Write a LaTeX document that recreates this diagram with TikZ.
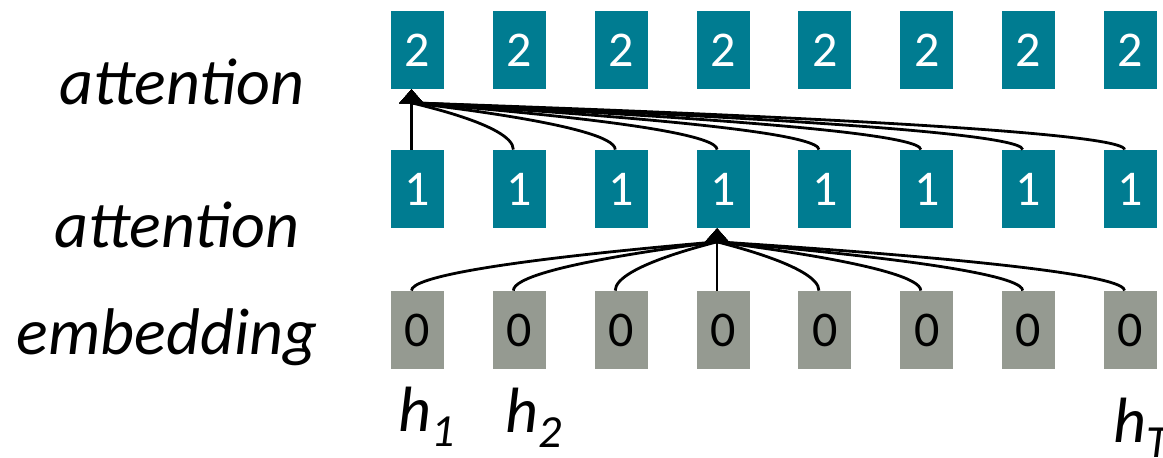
\documentclass[tikz,border=0pt]{standalone}
\usepackage{fontspec}
\setmainfont{Carlito}
\usetikzlibrary{arrows.meta}
\definecolor{layerteal}{HTML}{007C91}
\definecolor{embgray}{HTML}{959A91}
\newcommand{\hsub}[1]{h\raisebox{-7.5pt}{\fontsize{23}{23}\selectfont #1}}

\begin{document}
\begin{tikzpicture}[
		x={(0.5pt,0pt)},
		y={(0pt,-0.5pt)},
		cell/.style={minimum width=26.5pt,minimum height=39pt,inner sep=0pt,font=\fontsize{25}{25}\selectfont},
		att/.style={cell,fill=layerteal,text=white},
		emb/.style={cell,fill=embgray,text=black},
		lab/.style={anchor=base,inner sep=0pt,font=\fontsize{33}{33}\selectfont\itshape},
		hlab/.style={anchor=base west,inner sep=0pt,font=\fontsize{32}{32}\selectfont\itshape},
		conn/.style={line width=1.4pt,-{Triangle[length=7pt,width=12pt]}},
	]
		\useasboundingbox (0,0) rectangle (1163,458);
		
		\foreach \i in {1,...,8}{
			\node[att] (t\i) at ({417.5+101.86*(\i-1)},50) {2};
			\node[att] (m\i) at ({417.5+101.86*(\i-1)},189) {1};
			\node[emb] (e\i) at ({417.5+101.86*(\i-1)},330) {0};
		}
		
		\node[lab] (lt) at (182,105) {attention};
		\node[lab] (lm) at (177,248) {attention};
		\node[lab] (le) at (167,355) {embedding};
		
		\node[hlab] (h1) at (398,432) {\hsub{1}};
		\node[hlab] (h2) at (505,433) {\hsub{2}};
		\node[hlab] (hT) at (1113,443) {\hsub{T}};
		
		% second attention layer reads all of layer 1
		\draw[conn] ([xshift=-3pt]m1.north) -- ([xshift=-3pt]t1.south);
		\foreach \i in {2,...,8}{
			\draw[conn] ([xshift=-3pt]m\i.north) .. controls ([xshift=-3pt,yshift=12.5pt]m\i.north) and ([xshift=-3pt,yshift=-7pt]t1.south) .. ([xshift=-3pt]t1.south);
		}
		
		% first attention layer reads all embeddings
		\draw[conn] ([xshift=-3pt]e4.north) -- ([xshift=-3pt]m4.south);
		\foreach \i in {1,2,3,5,6,7,8}{
			\draw[conn] ([xshift=-3pt]e\i.north) .. controls ([xshift=-3pt,yshift=12.5pt]e\i.north) and ([xshift=-3pt,yshift=-7pt]m4.south) .. ([xshift=-3pt]m4.south);
		}
	\end{tikzpicture}
\end{document}
